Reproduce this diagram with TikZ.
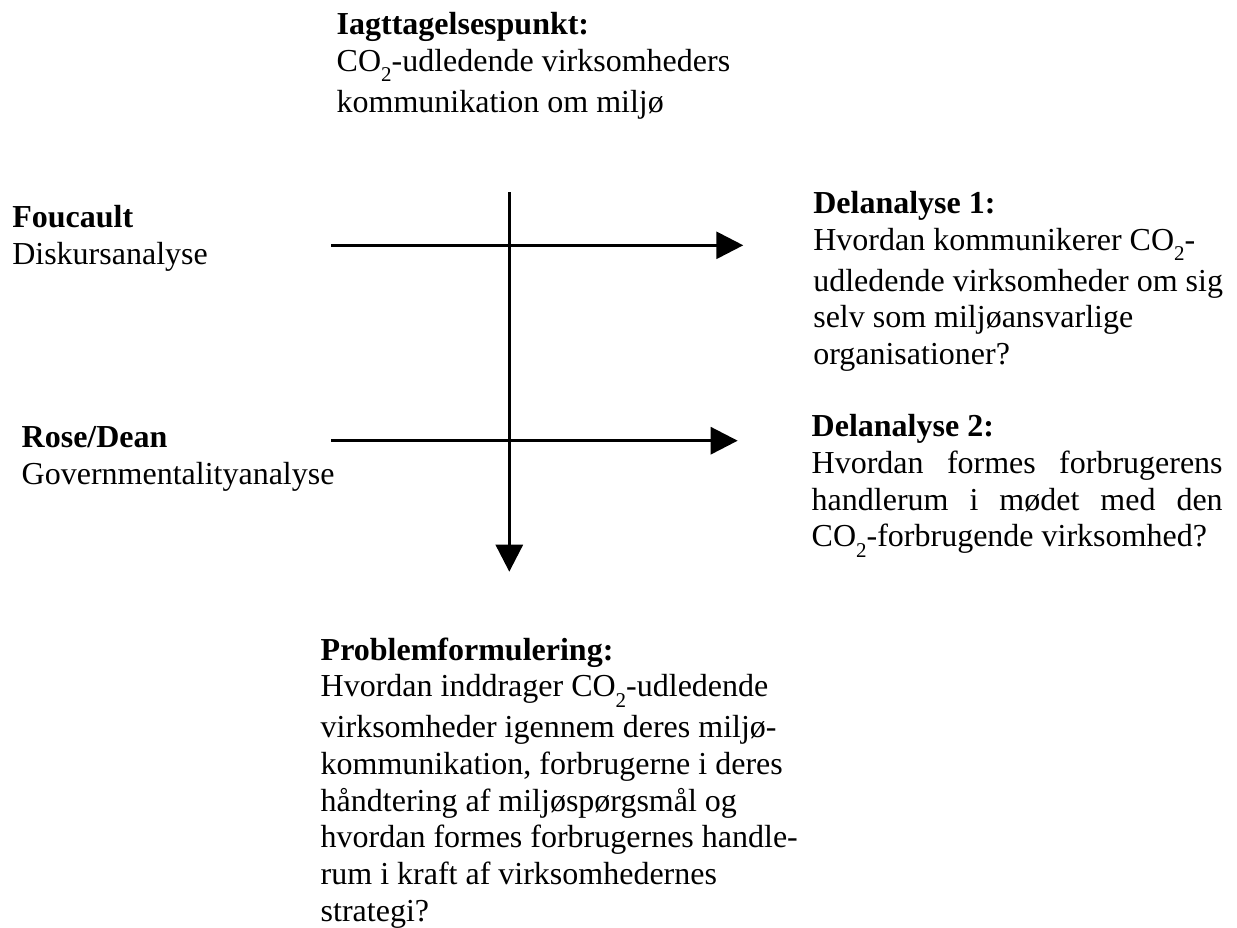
\documentclass[tikz,border=0pt]{standalone}
\usepackage{fontspec}
\setmainfont{Liberation Serif}
\usetikzlibrary{arrows.meta}
\newcommand\COtwo{CO\smash{\raisebox{-0.33em}{\fontsize{21}{21}\selectfont 2}}}
\begin{document}
\begin{tikzpicture}[x=1pt,y=-1pt,
  txt/.style={anchor=base west, inner sep=0pt, outer sep=0pt, font=\fontsize{32}{36.7}\selectfont},
  arr/.style={line width=3pt, -{Triangle[length=27pt,width=27pt]}}]
\useasboundingbox (0,0) rectangle (1237,927);

% text blocks
\node[txt] (obs) at (336.7,34.3) {\parbox[t]{520pt}{\raggedright\textbf{Iagttagelsespunkt:}\\
  \COtwo-udledende virksomheders\\[4.3pt]
  kommunikation om miljø}};

\node[txt] (fou) at (12.3,227.7) {\parbox[t]{300pt}{\raggedright\textbf{Foucault}\\
  Diskursanalyse}};

\node[txt] (rose) at (21.7,447.7) {\parbox[t]{330pt}{\raggedright\textbf{Rose/Dean}\\
  Governmentalityanalyse}};

\node[txt] (d1) at (813.3,213.3) {\parbox[t]{420pt}{\raggedright\textbf{Delanalyse 1:}\\
  Hvordan kommunikerer \COtwo-\\[4.3pt]
  udledende virksomheder om sig\\
  selv som miljøansvarlige\\
  organisationer?}};

\node[txt] (d2) at (811.7,436.7) {\parbox[t]{411pt}{\textbf{Delanalyse 2:}\\
  \makebox[411pt][s]{Hvordan formes forbrugerens}\\
  \makebox[411pt][s]{handlerum i mødet med den}\\
  \COtwo-forbrugende virksomhed?}};

\node[txt] (pf) at (320.7,660) {\parbox[t]{520pt}{\raggedright\textbf{Problemformulering:}\\
  Hvordan inddrager \COtwo-udledende\\[4.3pt]
  virksomheder igennem deres miljø-\\
  kommunikation, forbrugerne i deres\\
  håndtering af miljøspørgsmål og\\
  hvordan formes forbrugernes handle-\\
  rum i kraft af virksomhedernes\\
  strategi?}};

% connectors
\coordinate (vtop) at (509.3,192);
\coordinate (vend) at (509.3,571.7);
\coordinate (h1s) at (331,245.3);
\coordinate (h1e) at (743.3,245.3);
\coordinate (h2s) at (331,440.7);
\coordinate (h2e) at (737.7,440.7);

\draw[arr] (vtop) -- (vend);
\draw[arr] (h1s) -- (h1e);
\draw[arr] (h2s) -- (h2e);
\end{tikzpicture}
\end{document}
